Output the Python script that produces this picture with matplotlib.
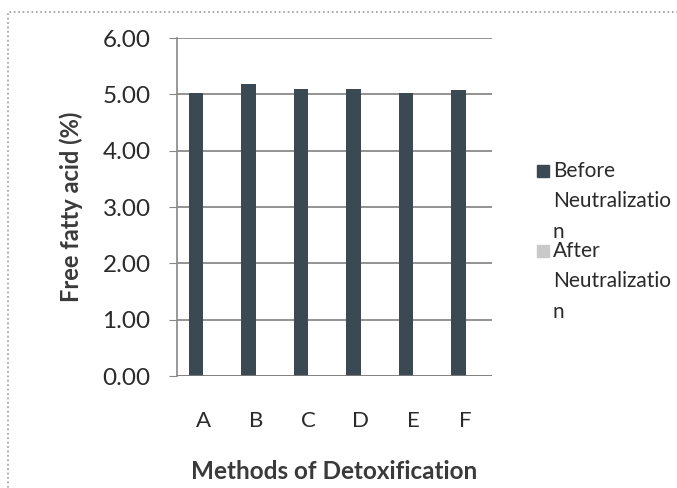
import numpy as np
import matplotlib.pyplot as plt
from matplotlib.patches import Rectangle

methods = ["A", "B", "C", "D", "E", "F"]
before = [5.02, 5.18, 5.10, 5.09, 5.02, 5.08]
after = [0, 0, 0, 0, 0, 0]
yticks = [0, 1, 2, 3, 4, 5, 6]

plt.rcParams['font.family'] = ['Lato', 'DejaVu Sans']

fig = plt.figure(figsize=(6.77, 4.88), dpi=100)
ax = fig.add_axes([0.2615, 0.2295, 0.4652, 0.6926])

x = np.arange(len(methods))
w = 0.28
ax.bar(x - w / 2, before, w, color="#3b4a52", zorder=3)
ax.bar(x + w / 2, after, w, color="#c9c9c9", zorder=3)

ax.set_xlim(-0.5, len(methods) - 0.5)
ax.set_ylim(0, 6)
ax.set_yticks(yticks)
ax.set_yticklabels(["%.2f" % v for v in yticks], fontsize=17.5, color="#2a2a2a")
ax.set_xticks(x)
ax.set_xticklabels(methods, fontsize=16, color="#2a2a2a")
ax.tick_params(axis="x", length=0, pad=25)
ax.tick_params(axis="y", length=6, color="#888888", pad=13)

ax.grid(axis="y", color="#808080", linewidth=1.2, zorder=0)
for s in ["top", "right", "bottom"]:
    ax.spines[s].set_visible(False)
ax.spines["left"].set_color("#888888")
ax.spines["left"].set_linewidth(1.2)
ax.axhline(0, color="#808080", linewidth=1.2, zorder=4)

ax.set_ylabel("Free fatty acid (%)", fontsize=17, fontweight="bold", color="#3a3a3a", labelpad=14)
ax.set_xlabel("Methods of Detoxification", fontsize=17.5, fontweight="bold", color="#3a3a3a", labelpad=21)

# legend (wrapped as in the original)
fig.patches.append(Rectangle((537 / 677, 1 - 177 / 488), 12 / 677, 12 / 488,
                             transform=fig.transFigure, color="#3b4a52"))
fig.patches.append(Rectangle((537 / 677, 1 - 257 / 488), 12 / 677, 12 / 488,
                             transform=fig.transFigure, color="#c9c9c9"))
fig.text(553 / 677, 1 - 161 / 488, "Before\nNeutralizatio\nn", fontsize=15,
         color="#2a2a2a", va="top", linespacing=1.65)
fig.text(553 / 677, 1 - 241 / 488, "After\nNeutralizatio\nn", fontsize=15,
         color="#2a2a2a", va="top", linespacing=1.65)

# chart border
fig.patches.append(Rectangle((8 / 677, -0.1), 1.0, 1 - 12 / 488 + 0.1,
                             transform=fig.transFigure, fill=False,
                             edgecolor="#999999", linestyle=":", linewidth=1.2))

fig.savefig("out.png", dpi=100)
